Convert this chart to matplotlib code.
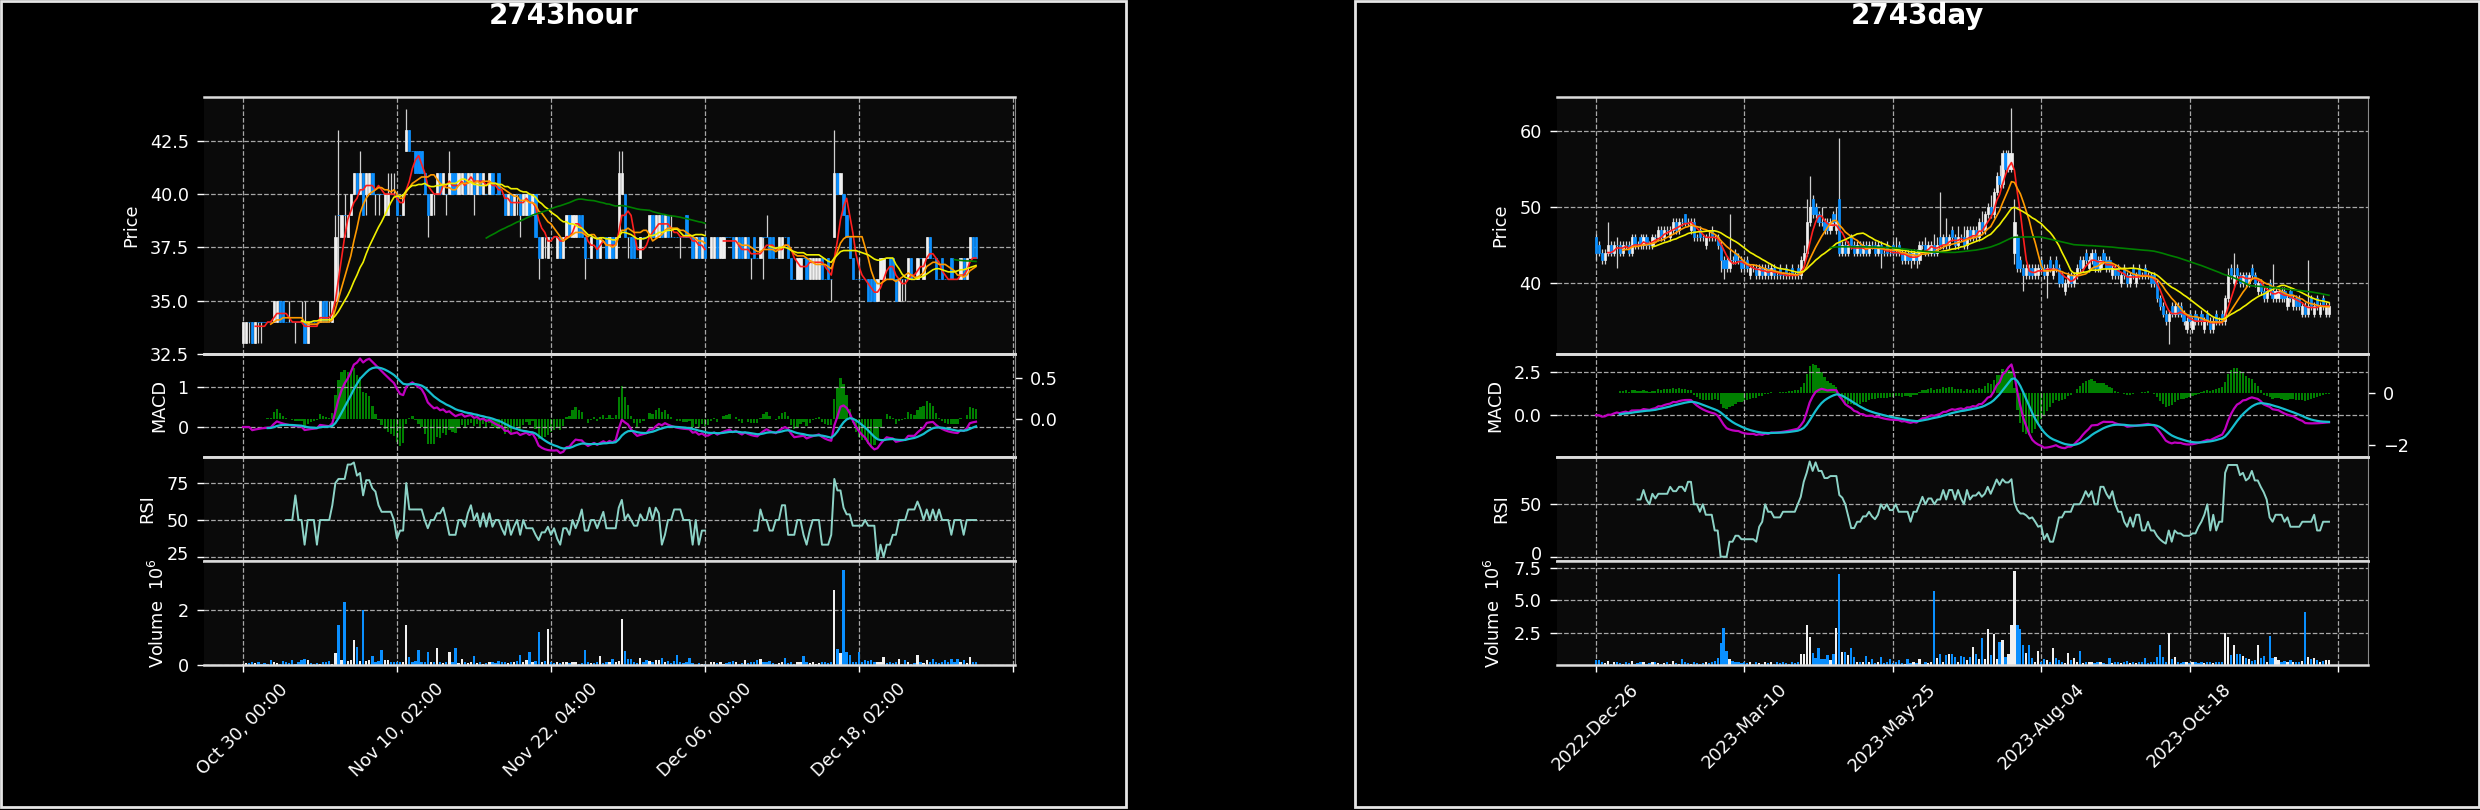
import numpy as np
import pandas as pd
import matplotlib
matplotlib.use("Agg")
import matplotlib.pyplot as plt
import matplotlib.transforms as mtransforms
from matplotlib.patches import Rectangle

nan = float("nan")

# ---- 2743 hourly bars (price, volume in millions) ----
hour_open = [
    33, 33, 34, 34, 33, 34, 34, 34, 34, 34,
    34, 34, 35, 35, 34, 34, 34, 34, 34, 34,
    34, 33, 34, 34, 34, 34, 35, 35, 34, 34,
    35, 39, 38, 39, 38, 39, 40, 41, 40, 41,
    40, 40, 41, 40, 40, 40, 39, 39, 40, 40,
    40, 39, 39, 42, 43, 42, 42, 42, 42, 41,
    40, 39, 40, 40, 41, 40, 40, 40, 41, 41,
    40, 40, 41, 40, 40, 41, 40, 41, 40, 40,
    40, 41, 40, 41, 40, 40, 39, 40, 39, 40,
    40, 39, 39, 40, 39, 40, 38, 37, 38, 37,
    38, 38, 37, 38, 37, 38, 39, 38, 38, 39,
    39, 38, 37, 37, 38, 38, 37, 38, 38, 37,
    38, 37, 38, 40, 40, 38, 38, 38, 37, 37,
    38, 38, 38, 39, 38, 38, 39, 38, 39, 38,
    38, 38, 38, 38, 39, 38, 38, 37, 38, 37,
    38, nan, 37, 37, 38, 37, 37, 38, 38, 38,
    37, 38, 38, 37, 38, 37, 38, 37, 37, 38,
    38, 38, 38, 37, 37, 37, 38, 38, 37, 36,
    36, 36, 37, 37, 36, 36, 36, 36, 37, 36,
    37, 36, 38, 41, 40, 40, 39, 38, 37, 36,
    36, 36, 36, 36, 36, 36, 35, 36, 36, 37,
    37, 37, 36, 35, 36, 36, 36, 37, 36, 36,
    37, 36, 37, 38, 37, 37, 36, 37, 36, 36,
    37, 36, 36, 36, 37, 36, 37, 38, 38,
]
hour_high = [
    34, 34, 34, 34, 34, 34, 34, 34, 34, 34,
    35, 35, 35, 35, 34, 35, 34, 34, 34, 35,
    35, 34, 34, 34, 34, 35, 35, 35, 35, 35,
    39, 43, 39, 40, 39, 40, 41, 41, 42, 41,
    41, 41, 41, 40, 40, 40, 40, 41, 41, 41,
    40, 39, 40, 44, 43, 42, 42, 42, 42, 41,
    40, 40, 40, 41, 41, 41, 40, 42, 41, 41,
    41, 41, 41, 41, 41, 41, 41, 41, 41, 40,
    41, 41, 40, 41, 40, 40, 40, 40, 40, 40,
    40, 40, 40, 40, 40, 40, 38, 38, 38, 38,
    38, 38, 38, 38, 38, 39, 39, 39, 39, 39,
    39, 38, 37, 38, 38, 38, 38, 38, 38, 38,
    38, 38, 42, 42, 40, 38, 38, 38, 37, 38,
    38, 38, 39, 39, 39, 39, 39, 39, 39, 39,
    38, 38, 38, 38, 39, 38, 38, 38, 38, 38,
    38, nan, 38, 38, 38, 38, 38, 38, 38, 38,
    38, 38, 38, 38, 38, 37, 38, 37, 38, 38,
    39, 38, 38, 37, 38, 38, 38, 38, 37, 36,
    37, 37, 37, 37, 37, 37, 37, 37, 37, 36,
    37, 36, 43, 41, 41, 40, 39, 38, 37, 36,
    37, 36, 36, 36, 36, 36, 36, 37, 37, 37,
    37, 37, 36, 36, 36, 36, 37, 37, 36, 37,
    37, 37, 38, 38, 37, 37, 36, 37, 36, 36,
    37, 36, 36, 37, 37, 37, 38, 38, 38,
]
hour_low = [
    33, 33, 33, 33, 33, 33, 33, 34, 34, 34,
    34, 34, 34, 34, 34, 34, 34, 33, 34, 34,
    33, 33, 34, 34, 34, 34, 34, 34, 34, 34,
    35, 35, 38, 38, 38, 39, 40, 40, 40, 39,
    39, 40, 40, 39, 39, 40, 39, 39, 40, 40,
    39, 39, 39, 42, 42, 42, 41, 41, 41, 40,
    38, 39, 39, 40, 40, 40, 39, 40, 40, 40,
    40, 40, 40, 40, 40, 39, 40, 40, 40, 40,
    40, 40, 40, 40, 40, 39, 39, 39, 39, 39,
    38, 39, 39, 39, 39, 38, 36, 37, 37, 37,
    38, 38, 37, 37, 37, 38, 38, 38, 38, 38,
    38, 36, 37, 37, 38, 37, 37, 38, 37, 37,
    37, 37, 38, 40, 38, 37, 37, 37, 37, 37,
    38, 38, 38, 38, 38, 38, 38, 38, 38, 38,
    38, 38, 37, 38, 38, 38, 37, 37, 37, 37,
    37, nan, 37, 37, 37, 37, 37, 38, 38, 37,
    37, 37, 37, 37, 37, 36, 37, 37, 37, 36,
    38, 37, 37, 37, 37, 37, 38, 37, 36, 36,
    36, 36, 37, 36, 36, 36, 36, 36, 36, 36,
    36, 35, 38, 40, 40, 39, 38, 37, 36, 36,
    36, 36, 36, 35, 35, 35, 35, 36, 36, 37,
    36, 36, 35, 35, 35, 35, 36, 36, 36, 36,
    37, 36, 37, 37, 37, 36, 36, 36, 36, 36,
    36, 36, 36, 36, 36, 36, 37, 37, 37,
]
hour_close = [
    34, 34, 34, 33, 34, 34, 34, 34, 34, 34,
    35, 35, 34, 34, 34, 34, 34, 34, 34, 34,
    33, 34, 34, 34, 34, 35, 34, 34, 34, 35,
    38, 39, 39, 39, 39, 40, 41, 40, 41, 39,
    41, 41, 40, 40, 40, 40, 40, 40, 40, 40,
    39, 39, 40, 43, 42, 42, 41, 41, 41, 40,
    39, 40, 40, 41, 40, 41, 40, 41, 40, 40,
    41, 41, 40, 41, 41, 40, 41, 40, 41, 40,
    41, 40, 40, 40, 40, 39, 40, 39, 40, 40,
    39, 40, 40, 39, 40, 38, 37, 38, 38, 38,
    38, 38, 38, 37, 38, 39, 38, 39, 39, 38,
    38, 37, 37, 38, 38, 37, 38, 38, 37, 38,
    37, 38, 41, 41, 38, 38, 37, 37, 37, 38,
    38, 38, 39, 38, 39, 39, 38, 39, 38, 38,
    38, 38, 38, 38, 38, 38, 37, 38, 37, 38,
    37, nan, 38, 38, 37, 38, 38, 38, 38, 37,
    38, 37, 37, 38, 37, 37, 37, 37, 38, 38,
    38, 37, 37, 37, 38, 38, 38, 37, 36, 36,
    37, 37, 37, 36, 37, 37, 37, 37, 36, 36,
    36, 36, 41, 40, 41, 39, 38, 37, 36, 36,
    36, 36, 36, 35, 35, 35, 36, 37, 37, 37,
    36, 36, 35, 36, 36, 36, 37, 36, 36, 37,
    37, 37, 38, 37, 37, 36, 36, 36, 36, 36,
    36, 36, 36, 37, 36, 37, 38, 37, 37,
]
hour_volume = [
    0.05, 0.08, 0.06, 0.12, 0.08, 0.10, 0.05, 0.06, 0.05, 0.17,
    0.10, 0.06, 0.05, 0.15, 0.10, 0.08, 0.17, 0.05, 0.10, 0.20,
    0.23, 0.20, 0.06, 0.05, 0.08, 0.05, 0.10, 0.12, 0.15, 0.05,
    0.44, 1.47, 0.20, 2.29, 0.15, 0.20, 0.90, 0.65, 0.15, 2.00,
    0.15, 0.20, 0.33, 0.10, 0.15, 0.53, 0.20, 0.20, 0.10, 0.10,
    0.12, 0.10, 0.10, 1.44, 0.29, 0.10, 0.15, 0.53, 0.12, 0.10,
    0.47, 0.10, 0.12, 0.62, 0.10, 0.08, 0.10, 0.47, 0.10, 0.62,
    0.08, 0.23, 0.10, 0.08, 0.10, 0.33, 0.06, 0.10, 0.05, 0.08,
    0.10, 0.12, 0.06, 0.15, 0.10, 0.12, 0.08, 0.10, 0.12, 0.15,
    0.35, 0.10, 0.20, 0.47, 0.10, 0.15, 1.20, 0.10, 0.15, 1.32,
    0.12, 0.08, 0.10, 0.06, 0.12, 0.10, 0.08, 0.12, 0.10, 0.05,
    0.06, 0.53, 0.10, 0.08, 0.06, 0.10, 0.33, 0.08, 0.12, 0.10,
    0.23, 0.10, 0.15, 1.68, 0.50, 0.23, 0.23, 0.10, 0.08, 0.25,
    0.12, 0.20, 0.15, 0.10, 0.20, 0.20, 0.25, 0.10, 0.15, 0.08,
    0.15, 0.35, 0.10, 0.08, 0.10, 0.25, 0.08, 0.00, 0.06, 0.05,
    0.05, nan, 0.10, 0.12, 0.08, 0.10, 0.05, 0.08, 0.12, 0.15,
    0.10, 0.05, 0.06, 0.20, 0.08, 0.12, 0.10, 0.20, 0.23, 0.10,
    0.12, 0.15, 0.06, 0.05, 0.08, 0.10, 0.25, 0.08, 0.10, 0.05,
    0.12, 0.10, 0.33, 0.10, 0.06, 0.12, 0.05, 0.08, 0.10, 0.12,
    0.06, 0.10, 2.72, 0.59, 0.45, 3.44, 0.47, 0.35, 0.12, 0.10,
    0.47, 0.10, 0.20, 0.15, 0.20, 0.12, 0.10, 0.10, 0.29, 0.08,
    0.10, 0.06, 0.10, 0.23, 0.05, 0.20, 0.10, 0.05, 0.06, 0.35,
    0.10, 0.08, 0.20, 0.10, 0.23, 0.10, 0.08, 0.12, 0.20, 0.10,
    0.23, 0.10, 0.23, 0.10, 0.20, 0.08, 0.29, 0.10, 0.12,
]
hour_ticklabels = ["Oct 30, 00:00", "Nov 10, 02:00", "Nov 22, 04:00",
                   "Dec 06, 00:00", "Dec 18, 02:00", ""]

# ---- 2743 daily bars ----
day_open = [
    46, 45, 44, 43, 44, 45, 44, 45, 45, 44,
    45, 45, 44, 46, 45, 46, 45, 46, 45, 45,
    46, 46, 47, 46, 47, 46, 47, 48, 47, 48,
    49, 48, 47, 48, 46, 47, 46, 45, 46, 47,
    46, 46, 45, 43, 43, 42, 43, 44, 43, 43,
    42, 43, 41, 42, 42, 41, 42, 41, 42, 41,
    42, 41, 42, 41, 42, 41, 42, 41, 42, 41,
    43, 44, 48, 51, 50, 49, 48, 48, 48, 47,
    49, 47, 51, 44, 45, 44, 46, 45, 44, 45,
    44, 45, 44, 45, 45, 44, 45, 44, 45, 44,
    45, 44, 45, 44, 43, 44, 44, 43, 44, 43,
    45, 45, 44, 44, 45, 44, 46, 45, 46, 45,
    47, 46, 45, 46, 46, 45, 47, 46, 47, 46,
    48, 47, 49, 50, 49, 52, 54, 53, 57, 55,
    55, 44, 46, 43, 42, 41, 42, 42, 41, 41,
    43, 42, 41, 43, 41, 43, 42, 41, 39, 40,
    41, 40, 41, 43, 42, 44, 42, 43, 44, 43,
    42, 44, 43, 43, 41, 42, 42, 40, 42, 41,
    40, 42, 40, 42, 41, 42, 41, 41, 41, 40,
    38, 37, 36, 35, 37, 36, 37, 37, 36, 34,
    36, 34, 36, 35, 36, 34, 36, 35, 34, 36,
    35, 36, 35, 38, 42, 40, 42, 41, 40, 41,
    40, 42, 41, 39, 40, 39, 38, 40, 39, 38,
    38, 39, 39, 37, 39, 37, 38, 38, 36, 37,
    36, 38, 36, 38, 36, 38, 36, 36,
]
day_high = [
    46.5, 45.5, 44.5, 44.5, 48, 45.5, 45.5, 46, 45.5, 45.5,
    45.5, 45.5, 46.5, 46.5, 45.5, 46.5, 46.5, 46.5, 45.5, 46.5,
    46.5, 47.5, 47.5, 47.5, 47.5, 47.5, 48.5, 48.5, 48.5, 48.5,
    49, 48.5, 48.5, 48.5, 46.5, 47.5, 46.5, 46.5, 47, 47.5,
    46.5, 46.5, 45.5, 43.5, 43.5, 49, 43.5, 44.5, 44, 43.5,
    42.5, 43.5, 42.5, 42.5, 42.5, 42.5, 42.5, 42.5, 42.5, 42.5,
    42.5, 41.5, 42.5, 41.5, 42.5, 41.5, 42.5, 41.5, 42.5, 43.5,
    45, 51, 54, 51.5, 50.5, 49.5, 50, 48.5, 48.5, 48.5,
    49.5, 50, 59, 45.5, 45.5, 45.5, 46.5, 45.5, 45.5, 45.5,
    45.5, 45.5, 45.5, 45.5, 45.5, 45.5, 45.5, 44.5, 45.5, 44.5,
    45.5, 46, 45.5, 44.5, 44.5, 44.5, 44.5, 44.5, 44.5, 45.5,
    45.5, 46, 45.5, 45.5, 46.5, 46, 52, 46.5, 48.5, 46.5,
    47.5, 46.5, 47.5, 46.5, 47.5, 47.5, 47.5, 47.5, 47.5, 48.5,
    49.5, 49.5, 50.5, 51.5, 52.5, 54.5, 55.5, 57.5, 57.5, 57.5,
    63, 51, 46.5, 43.5, 42.5, 42.5, 42.5, 42.5, 42.5, 42.5,
    43.5, 42.5, 42.5, 43.5, 42.5, 43.5, 42.5, 41.5, 40.5, 41.5,
    41.5, 41.5, 42.5, 43.5, 43.5, 44.5, 43.5, 44.5, 44.5, 43.5,
    43.5, 44.5, 43.5, 43.5, 42.5, 42.5, 42.5, 41.5, 42.5, 41.5,
    41.5, 42.5, 41.5, 42.5, 41.5, 42.5, 41.5, 41.5, 41.5, 40.5,
    38.5, 37.5, 36.5, 36.5, 37.5, 37.5, 37.5, 37.5, 36.5, 35.5,
    36.5, 35.5, 36.5, 35.5, 36.5, 35.5, 36.5, 35.5, 35.5, 36.5,
    35.5, 36.5, 38.5, 42, 42.5, 44, 42.5, 41.5, 41.5, 41.5,
    41.5, 42.5, 41.5, 40.5, 40.5, 39.5, 39.5, 40.5, 42.5, 39.5,
    39.5, 39.5, 39.5, 38.5, 39.5, 38.5, 38.5, 38.5, 37.5, 37.5,
    43, 38.5, 37.5, 38.5, 37.5, 38.5, 37.5, 37.5,
]
day_low = [
    43, 43.5, 42.5, 42.5, 43.5, 43.5, 43.5, 42, 43.5, 43.5,
    44.5, 43.5, 43.5, 44.5, 44.5, 44.5, 44.5, 44.5, 44.5, 44.5,
    45.5, 45.5, 45.5, 45.5, 46.5, 45.5, 46.5, 46.5, 46.5, 47.5,
    47.5, 47.5, 46.5, 45.5, 45.5, 45.5, 45.5, 44.5, 45.5, 45.5,
    45.5, 44.5, 41.5, 40.5, 41.5, 41.5, 42.5, 42.5, 42.5, 41.5,
    41.5, 41.5, 40.5, 41.5, 40.5, 40.5, 40.5, 40.5, 40.5, 40.5,
    40.5, 40.5, 40.5, 40.5, 40.5, 40.5, 40.5, 40.5, 40.5, 40.5,
    42.5, 43.5, 47.5, 48.5, 48.5, 47.5, 47.5, 46.5, 46.5, 46.5,
    47.5, 46.5, 43.5, 43.5, 43.5, 43.5, 44.5, 43.5, 43.5, 43.5,
    43.5, 43.5, 43.5, 44.5, 43.5, 43.5, 42, 43.5, 43.5, 43.5,
    43.5, 43.5, 43.5, 42.5, 42.5, 42.5, 42, 42.5, 42, 42.5,
    44.5, 43.5, 43.5, 43.5, 43.5, 43.5, 44.5, 44.5, 44.5, 44.5,
    45.5, 44.5, 44.5, 45.5, 44.5, 44.5, 45.5, 45.5, 45.5, 45.5,
    46.5, 46.5, 48.5, 48.5, 48.5, 51.5, 52.5, 52.5, 54.5, 54.5,
    54.5, 42.5, 41.5, 41.5, 39, 40.5, 40.5, 40.5, 40.5, 40.5,
    41.5, 40.5, 38, 41.5, 40.5, 41.5, 39.5, 39.5, 38.5, 39.5,
    39.5, 39.5, 40.5, 41.5, 41.5, 42.5, 41.5, 42.5, 41.5, 41.5,
    41.5, 42.5, 41.5, 41.5, 40.5, 40.5, 40.5, 39.5, 40.5, 39.5,
    39.5, 40.5, 39.5, 40.5, 40.5, 40.5, 40.5, 39.5, 39.5, 37.5,
    36.5, 35.5, 34.5, 32, 35.5, 35.5, 35.5, 35.5, 34.5, 33.5,
    34.5, 33.5, 34.5, 34.5, 34.5, 33.5, 34.5, 33.5, 33.5, 34.5,
    34.5, 34.5, 34.5, 37.5, 40.5, 39.5, 40.5, 39.5, 39.5, 39.5,
    39.5, 40.5, 39.5, 38.5, 38.5, 37.5, 37.5, 38.5, 37.5, 37.5,
    37.5, 37.5, 37.5, 36.5, 37.5, 36.5, 36.5, 36.5, 35.5, 35.5,
    35.5, 36.5, 35.5, 36.5, 35.5, 36.5, 35.5, 35.5,
]
day_close = [
    44, 44, 43, 44, 45, 44, 45, 45, 44, 45,
    45, 44, 46, 45, 45, 45, 46, 45, 45, 46,
    46, 47, 46, 47, 47, 47, 48, 47, 48, 48,
    48, 48, 48, 46, 46, 46, 46, 46, 46, 46,
    46, 45, 43, 42, 42, 43, 43, 43, 43, 42,
    42, 42, 42, 42, 41, 42, 41, 42, 41, 42,
    41, 41, 41, 41, 41, 41, 41, 41, 41, 43,
    44, 48, 50, 49, 49, 48, 48, 47, 47, 48,
    48, 48, 44, 45, 44, 45, 45, 44, 45, 44,
    45, 44, 45, 45, 44, 45, 44, 44, 44, 44,
    44, 44, 44, 43, 44, 43, 43, 44, 43, 45,
    45, 44, 45, 45, 44, 45, 45, 46, 45, 46,
    46, 45, 46, 46, 45, 47, 46, 47, 46, 48,
    47, 49, 50, 49, 52, 54, 53, 57, 55, 57,
    57, 48, 42, 42, 41, 42, 41, 41, 42, 42,
    42, 41, 42, 42, 42, 42, 40, 40, 40, 41,
    40, 41, 42, 42, 43, 43, 43, 44, 42, 42,
    43, 43, 42, 42, 42, 41, 41, 41, 41, 40,
    41, 41, 41, 41, 41, 41, 41, 40, 40, 38,
    37, 36, 35, 36, 36, 37, 36, 36, 35, 35,
    35, 35, 35, 35, 35, 35, 35, 34, 35, 35,
    35, 35, 38, 41, 41, 41, 41, 40, 41, 40,
    41, 41, 40, 40, 39, 38, 39, 39, 38, 39,
    39, 38, 38, 38, 38, 38, 37, 37, 37, 36,
    37, 37, 37, 37, 37, 37, 37, 37,
]
day_volume = [
    0.40, 0.45, 0.30, 0.20, 0.35, 0.15, 0.25, 0.30, 0.20, 0.15,
    0.25, 0.20, 0.35, 0.15, 0.20, 0.30, 0.25, 0.15, 0.20, 0.25,
    0.30, 0.20, 0.15, 0.20, 0.30, 0.15, 0.35, 0.20, 0.15, 0.50,
    0.30, 0.20, 0.15, 0.25, 0.20, 0.15, 0.20, 0.25, 0.20, 0.30,
    0.35, 0.60, 1.70, 2.90, 1.10, 0.50, 0.35, 0.30, 0.25, 0.20,
    0.30, 0.20, 0.25, 0.15, 0.30, 0.20, 0.15, 0.30, 0.20, 0.25,
    0.15, 0.30, 0.20, 0.25, 0.20, 0.15, 0.30, 0.20, 0.30, 0.90,
    0.90, 3.10, 2.20, 1.00, 0.60, 1.35, 0.50, 0.50, 0.80, 0.40,
    0.90, 2.90, 7.00, 1.05, 1.05, 0.80, 1.35, 0.65, 0.30, 0.25,
    0.30, 0.75, 0.30, 0.50, 0.20, 0.25, 0.65, 0.20, 0.30, 0.50,
    0.20, 0.25, 0.40, 0.20, 0.15, 0.50, 0.20, 0.30, 0.20, 0.50,
    0.15, 0.30, 0.20, 0.25, 5.70, 0.55, 0.90, 0.30, 0.80, 0.90,
    0.90, 0.65, 0.30, 0.75, 0.65, 0.40, 0.65, 1.40, 0.90, 0.50,
    2.10, 0.50, 2.80, 0.80, 2.45, 0.50, 1.80, 2.00, 0.65, 0.90,
    3.10, 7.30, 3.10, 2.80, 1.55, 1.00, 1.60, 0.60, 0.30, 1.10,
    0.30, 0.50, 0.40, 0.30, 1.35, 0.60, 0.40, 0.30, 0.20, 1.00,
    0.40, 0.60, 0.30, 1.15, 0.20, 0.30, 0.25, 0.30, 0.20, 0.25,
    0.30, 0.20, 0.15, 0.60, 0.20, 0.25, 0.30, 0.20, 0.25, 0.35,
    0.20, 0.30, 0.20, 0.25, 0.30, 0.60, 0.20, 0.30, 0.25, 0.65,
    1.55, 0.65, 0.30, 2.50, 0.50, 0.65, 0.30, 0.20, 0.25, 0.30,
    0.20, 0.25, 0.30, 0.20, 0.25, 0.20, 0.30, 0.25, 0.20, 0.30,
    0.25, 0.30, 2.50, 2.20, 0.80, 1.60, 0.90, 0.90, 0.75, 0.55,
    0.50, 0.35, 0.40, 1.55, 0.55, 0.75, 0.30, 2.30, 0.55, 0.65,
    0.40, 0.30, 0.35, 0.30, 0.40, 0.30, 0.25, 0.30, 0.35, 4.15,
    0.65, 0.50, 0.55, 0.40, 0.30, 0.35, 0.40, 0.40,
]
day_ticklabels = ["2022-Dec-26", "2023-Mar-10", "2023-May-25",
                  "2023-Aug-04", "2023-Oct-18", ""]

mav_periods = [5, 10, 20, 80]

W, H = 2480, 810
BG = "#0a0a0a"
UP, DOWN = "#f0f0f0", "#0a8fff"
WICK = "#d0d0d0"
MA_COLORS = ["#ff1f1f", "#ff9a00", "#f0f000", "#008000"]
FS = 12.7
LPAD = 7

fig = plt.figure(figsize=(W / 100, H / 100), dpi=100, facecolor="black")


def box(x, y, w, h):
    # pixel box (from top-left) -> figure fraction
    return [x / W, 1 - (y + h) / H, w / W, h / H]


def calc_rsi(close, n=14):
    d = close.diff()
    gain = d.clip(lower=0).rolling(n).mean()
    loss = (-d.clip(upper=0)).rolling(n).mean()
    return 100 - 100 / (1 + gain / loss)


def style(ax, grid=True):
    ax.set_facecolor(BG)
    if grid:
        ax.grid(True, linestyle="--", color="#a8a8a8", linewidth=0.9)
    ax.set_axisbelow(True)
    ax.tick_params(colors="white", labelsize=FS, length=5, width=1, pad=6)
    for side in ("top", "bottom"):
        ax.spines[side].set_color("#dcdcdc")
        ax.spines[side].set_linewidth(1.8)
    ax.spines["left"].set_visible(False)
    ax.spines["right"].set_color("#8a8a8a")
    ax.spines["right"].set_linewidth(0.8)


def draw_chart(x0, cx, title, o, h, l, c, v, xlabels, price_lim, price_ticks,
               macd_lim, macd_ticks, hist_lim, hist_ticks, rsi_lim, rsi_ticks, vol_ticks):
    o, h, l, c, v = (np.array(a, dtype=float) for a in (o, h, l, c, v))
    n = len(c)
    x = np.arange(n)
    ok = ~np.isnan(c)
    cols = np.where(o < c, UP, DOWN)
    close = pd.Series(c)

    fig.text(cx / W, 1 - 23.5 / H, title, ha="center", va="baseline",
             color="white", fontsize=20, fontweight="bold")

    axp = fig.add_axes(box(x0, 97, 811, 257))
    axm = fig.add_axes(box(x0, 354, 811, 103), sharex=axp)
    axh = axm.twinx()
    axr = fig.add_axes(box(x0, 457, 811, 104), sharex=axp)
    axv = fig.add_axes(box(x0, 561, 811, 104), sharex=axp)
    for ax in (axp, axm, axr, axv):
        style(ax)
    style(axh, grid=False)

    # candles + moving averages
    axp.vlines(x[ok], l[ok], h[ok], colors=WICK, linewidth=0.9, zorder=2)
    axp.bar(x[ok], np.abs(c - o)[ok], bottom=np.minimum(o, c)[ok], width=0.75,
            color=cols[ok], edgecolor=cols[ok], linewidth=0.5, zorder=3)
    for p, col in zip(mav_periods, MA_COLORS):
        axp.plot(x, close.rolling(p).mean(), color=col, linewidth=1.2, zorder=4)
    axp.set_ylim(*price_lim)
    axp.set_yticks(price_ticks)
    axp.set_ylabel("Price", color="white", fontsize=FS, labelpad=LPAD)

    # MACD
    ema12 = close.ewm(span=12, adjust=False).mean()
    ema26 = close.ewm(span=26, adjust=False).mean()
    macd = ema12 - ema26
    signal = macd.ewm(span=9, adjust=False, min_periods=9).mean()
    hist = macd - signal
    axh.bar(x, hist, width=0.75, color="#008000", zorder=2)
    axm.set_zorder(axh.get_zorder() + 1)
    axm.patch.set_visible(False)
    axm.plot(x, macd, color="#c000c0", linewidth=1.6)
    axm.plot(x, signal, color="#17becf", linewidth=1.6)
    axm.set_ylim(*macd_lim)
    axm.set_yticks(macd_ticks)
    axh.set_ylim(*hist_lim)
    axh.set_yticks(hist_ticks)
    axm.set_ylabel("MACD", color="white", fontsize=FS, labelpad=LPAD)

    # RSI
    axr.plot(x, calc_rsi(close), color="#8dd3c7", linewidth=1.4)
    axr.set_ylim(*rsi_lim)
    axr.set_yticks(rsi_ticks)
    axr.set_ylabel("RSI", color="white", fontsize=FS, labelpad=LPAD)
    # lift the lowest RSI label a little so it clears the volume label below
    low = axr.get_yticklabels()[0]
    low.set_transform(low.get_transform() +
                      mtransforms.ScaledTranslation(0, 4 / 100, fig.dpi_scale_trans))

    # volume
    vok = ~np.isnan(v)
    axv.bar(x[vok], v[vok], width=0.75, color=cols[vok], zorder=2)
    axv.set_ylim(0.3 * np.nanmin(v), 1.1 * np.nanmax(v))
    axv.set_yticks(vol_ticks)
    axv.set_ylabel("Volume  $10^{6}$", color="white", fontsize=FS, labelpad=LPAD)

    pad = 0.053 * n
    axp.set_xlim(-pad, n - 1 + pad)
    axv.set_xticks(np.arange(0, 251, 50))
    axv.set_xticklabels(xlabels, rotation=45, ha="center")
    for ax in (axp, axm, axh, axr):
        ax.tick_params(axis="x", length=0, labelbottom=False)


draw_chart(204, 563.5, "2743hour", hour_open, hour_high, hour_low, hour_close,
           hour_volume, hour_ticklabels,
           (32.5, 44.55), [32.5, 35.0, 37.5, 40.0, 42.5],
           (-0.756, 1.84), [0, 1], (-0.46, 0.786), [0.0, 0.5],
           (22.3, 92.6), [25, 50, 75], [0, 2])
draw_chart(1557, 1917.5, "2743day", day_open, day_high, day_low, day_close,
           day_volume, day_ticklabels,
           (30.7, 64.4), [40, 50, 60],
           (-2.41, 3.54), [0.0, 2.5], (-2.46, 1.5), [-2, 0],
           (-4.1, 95.1), [0, 50], [2.5, 5.0, 7.5])

# white frames of the two sub-figures
for fx, fw in ((1, 1125), (1355, 1124)):
    fig.add_artist(Rectangle((fx / W, 3 / H), fw / W, 806 / H, transform=fig.transFigure,
                             fill=False, edgecolor="#e6e6e6", linewidth=2))

fig.savefig("out.png", dpi=100, facecolor="black")
